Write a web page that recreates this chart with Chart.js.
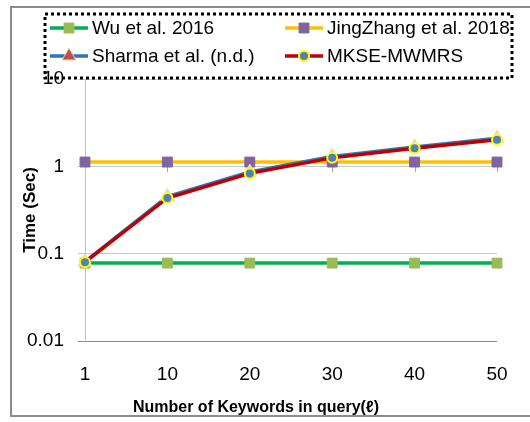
<!DOCTYPE html>
<html>
<head>
<meta charset="utf-8">
<script src="https://cdn.jsdelivr.net/npm/chart.js@4.4.0/dist/chart.umd.min.js"></script>
<style>
  body { margin: 0; background: #fff; }
  #wrap { position: relative; width: 530px; height: 422px; overflow: hidden; }
  #frame { position: absolute; left: 10px; top: 6px; width: 540px; height: 407px; border: 2px solid #8c8c8c; }
  #chart { position: absolute; left: 0; top: 0; }
</style>
</head>
<body>
<div id="wrap">
  <div id="frame"></div>
  <canvas id="chart" width="530" height="422"></canvas>
</div>
<script>
// Keyword counts on the x axis
const keywordCounts = ['1', '10', '20', '30', '40', '50'];

// Time in seconds for each scheme
const wuTimes = [0.078, 0.078, 0.078, 0.078, 0.078, 0.078];
const jingZhangTimes = [1.12, 1.12, 1.12, 1.12, 1.12, 1.12];
const sharmaTimes = [0.081, 0.45, 0.86, 1.3, 1.67, 2.1];
const mkseTimes = [0.08, 0.434, 0.83, 1.25, 1.61, 2.02];

// Log axis ticks
const yTicks = [0.01, 0.1, 1, 10];

const seriesNames = ['Wu et al. 2016', 'JingZhang et al. 2018', 'Sharma et al. (n.d.)', 'MKSE-MWMRS'];

const FONT = '"Liberation Sans", Arial, sans-serif';

// Legend drawn inside the dotted box, two columns
const legendBox = {
    id: 'legendBox',
    afterDraw(chart) {
        const ctx = chart.ctx;
        ctx.save();
        ctx.strokeStyle = '#000';
        ctx.lineWidth = 3;
        ctx.setLineDash([3, 3]);
        ctx.strokeRect(45, 14, 467, 64);
        ctx.setLineDash([]);

        const spots = [[50, 28], [285, 28], [50, 56], [285, 56]];
        chart.data.datasets.forEach((ds, i) => {
            const [x, y] = spots[i];
            ctx.strokeStyle = ds.borderColor;
            ctx.lineWidth = ds.borderWidth;
            ctx.beginPath();
            ctx.moveTo(x, y);
            ctx.lineTo(x + 38, y);
            ctx.stroke();
            ctx.fillStyle = ds.legendMarkerColor || ds.pointBackgroundColor;
            ctx.strokeStyle = ds.pointBorderColor;
            ctx.lineWidth = ds.pointBorderWidth;
            Chart.helpers.drawPoint(ctx, {
                pointStyle: ds.pointStyle,
                radius: ds.pointRadius,
                borderWidth: ds.pointBorderWidth,
                rotation: 0
            }, x + 19, y);
            ctx.fillStyle = '#000';
            ctx.font = '19px ' + FONT;
            ctx.textBaseline = 'middle';
            ctx.textAlign = 'left';
            ctx.fillText(ds.label, x + 42, y + 1);
        });

        // x axis title
        ctx.font = 'bold 16px ' + FONT;
        ctx.textAlign = 'center';
        ctx.fillText('Number of Keywords in query(\u2113)', 256, 408);
        ctx.restore();
    }
};

// Excel puts the category axis where y = 1, with its small tick marks
const crossTicks = {
    id: 'crossTicks',
    beforeDatasetsDraw(chart) {
        const ctx = chart.ctx;
        const xs = chart.scales.x;
        const y = chart.scales.y.getPixelForValue(1);
        ctx.save();
        ctx.strokeStyle = '#a6a6a6';
        ctx.lineWidth = 1;
        keywordCounts.forEach((c, i) => {
            if (i === 0) return;
            const x = Math.round(xs.getPixelForValue(i)) + 0.5;
            ctx.beginPath();
            ctx.moveTo(x, y);
            ctx.lineTo(x, y + 6);
            ctx.stroke();
        });
        ctx.restore();
    }
};

new Chart(document.getElementById('chart'), {
    type: 'line',
    data: {
        labels: keywordCounts,
        datasets: [
            {
                label: seriesNames[0],
                data: wuTimes,
                borderColor: '#00b050',
                borderWidth: 3.5,
                pointStyle: 'rect',
                pointRadius: 7,
                pointBackgroundColor: '#9bbb59',
                pointBorderColor: '#9bbb59',
                pointBorderWidth: 1,
                order: 3
            },
            {
                label: seriesNames[1],
                data: jingZhangTimes,
                borderColor: '#ffc000',
                borderWidth: 3.5,
                pointStyle: 'rect',
                pointRadius: 7,
                pointBackgroundColor: '#8064a2',
                pointBorderColor: '#8064a2',
                pointBorderWidth: 1,
                order: 2
            },
            {
                label: seriesNames[2],
                data: sharmaTimes,
                borderColor: '#2e75b6',
                borderWidth: 3.5,
                pointStyle: 'triangle',
                pointRadius: 8,
                pointBackgroundColor: '#fbcfb4',
                legendMarkerColor: '#c0504d',
                pointBorderColor: '#fbcfb4',
                pointBorderWidth: 1,
                order: 1
            },
            {
                label: seriesNames[3],
                data: mkseTimes,
                borderColor: '#c00000',
                borderWidth: 3.5,
                pointStyle: 'circle',
                pointRadius: 5,
                pointBackgroundColor: '#4f81bd',
                pointBorderColor: '#ffff00',
                pointBorderWidth: 2,
                order: 0
            }
        ]
    },
    options: {
        responsive: false,
        animation: false,
        layout: { padding: { top: 79, right: 33, bottom: 0, left: 0 } },
        plugins: {
            legend: { display: false },
            tooltip: { enabled: false }
        },
        scales: {
            x: {
                offset: false,
                grid: { display: false },
                border: { display: false },
                ticks: {
                    color: '#000',
                    padding: 14,
                    maxRotation: 0,
                    font: { family: FONT, size: 19 }
                },
                afterFit(scale) { scale.height = 81; }
            },
            y: {
                type: 'logarithmic',
                min: 0.01,
                max: 10,
                afterBuildTicks(scale) {
                    scale.ticks = yTicks.map(v => ({ value: v, major: true }));
                },
                ticks: {
                    color: '#000',
                    padding: 14,
                    font: { family: FONT, size: 19 },
                    callback: v => String(v)
                },
                grid: {
                    color: ctx => (ctx.tick && ctx.tick.value === 0.01 ? '#8c8c8c' : '#c8c8c8'),
                    tickLength: 7,
                    lineWidth: 1
                },
                border: { color: '#bfbfbf' },
                title: {
                    display: true,
                    text: 'Time (Sec)',
                    color: '#000',
                    font: { family: FONT, size: 17, weight: 'bold' },
                    padding: { top: 20, bottom: 0 }
                },
                afterFit(scale) { scale.width = 85; }
            }
        }
    },
    plugins: [legendBox, crossTicks]
});
</script>
</body>
</html>
